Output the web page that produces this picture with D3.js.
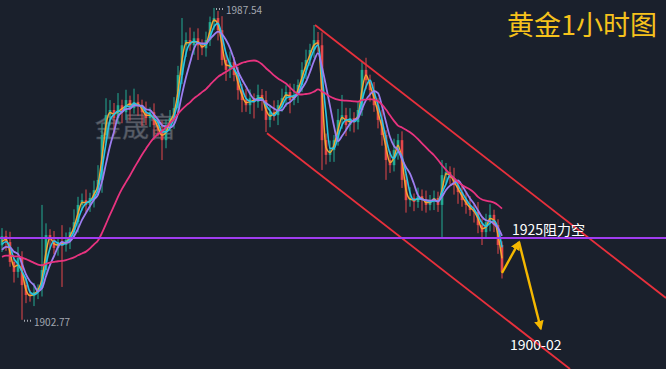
<!DOCTYPE html>
<html>
<head>
<meta charset="utf-8">
<script src="https://cdn.jsdelivr.net/npm/d3@7"></script>
<style>
  html, body { margin: 0; padding: 0; background: #1a202c; }
  svg { display: block; }
</style>
</head>
<body>
<div id="chart"></div>
<script>
// DATA (gold, 1h candles)
// closes before the first drawn candle, only used to seed the averages
const warmupCloses = [
  1917.6, 1918.2, 1919.5, 1920.1, 1918.8, 1917.9, 1919.0, 1920.6, 1921.2, 1919.7,
  1918.4, 1917.2, 1918.9, 1920.3, 1921.5, 1920.0, 1919.1, 1921.8, 1922.6
];
const firstOpen = 1923.0;
const closes = [
  1925.5, 1923.9, 1918.5, 1915.8, 1919.6, 1912.2, 1909.5, 1909.2, 1910.3, 1911.4,
  1916.3, 1925.8, 1924.5, 1922.3, 1923.9, 1923.1, 1924.5, 1926.6, 1929.3, 1934.0,
  1935.3, 1934.0, 1935.9, 1938.0, 1940.8, 1953.0, 1958.4, 1959.8, 1957.6, 1961.1,
  1959.2, 1962.5, 1960.3, 1962.0, 1960.9, 1959.2, 1957.6, 1959.2, 1955.7, 1954.3,
  1951.6, 1955.7, 1957.6, 1960.3, 1969.3, 1977.4, 1978.8, 1977.4, 1979.3, 1977.4,
  1976.6, 1978.8, 1983.7, 1984.8, 1981.5, 1973.4, 1970.7, 1972.8, 1969.3, 1965.2,
  1962.5, 1961.1, 1963.0, 1962.0, 1963.9, 1962.5, 1957.1, 1959.2, 1958.4, 1961.1,
  1963.0, 1964.7, 1962.5, 1963.9, 1966.6, 1970.7, 1973.4, 1976.1, 1978.8, 1977.4,
  1951.6, 1947.6, 1948.9, 1951.6, 1957.1, 1958.4, 1955.7, 1957.6, 1956.5, 1959.8,
  1970.7, 1967.9, 1965.2, 1961.1, 1957.1, 1953.0, 1946.2, 1944.8, 1948.9, 1951.6,
  1940.8, 1935.3, 1935.9, 1934.8, 1936.4, 1935.3, 1934.0, 1935.3, 1935.9, 1934.0,
  1942.1, 1942.9, 1941.3, 1939.4, 1937.5, 1935.3, 1934.0, 1932.6, 1932.1, 1928.5,
  1926.6, 1929.3, 1931.3, 1928.5, 1923.1, 1915.8
];
const upWick = [
  2.2, 1.5, 2.8, 1.2, 3.0, 1.8, 2.0, 1.4, 2.5, 1.0,
  17.7, 3.2, 1.6, 2.4, 1.1, 4.6, 2.0, 1.3, 3.5, 2.2,
  1.8, 2.9, 1.4, 2.6, 4.0, 3.1, 4.6, 2.7, 1.9, 3.3,
  1.5, 2.8, 1.2, 3.6, 2.1, 1.7, 2.9, 1.3, 2.4, 1.8,
  2.6, 1.5, 2.2, 3.0, 2.5, 7.4, 2.1, 3.4, 1.8, 2.7,
  1.6, 2.3, 1.5, 2.74, 1.9, 3.8, 2.0, 2.9, 1.4, 2.2,
  1.7, 3.1, 2.4, 1.3, 2.8, 1.6, 2.5, 1.9, 3.2, 1.4,
  2.6, 1.8, 2.3, 3.0, 1.5, 2.1, 2.8, 1.7, 4.1, 2.2,
  3.5, 1.8, 2.6, 1.4, 3.0, 5.5, 2.0, 2.7, 1.6, 2.4,
  2.1, 3.3, 1.5, 2.2, 1.9, 2.8, 1.3, 2.5, 3.1, 1.7,
  2.4, 1.6, 2.9, 1.2, 2.3, 1.8, 2.6, 1.4, 2.0, 1.7,
  4.1, 2.5, 1.6, 2.8, 1.3, 2.2, 1.9, 2.4, 1.5, 2.7,
  1.8, 2.3, 2.9, 1.4, 1.6, 1.0
];
const downWick = [
  1.8, 2.4, 1.3, 2.9, 1.6, 9.43, 2.2, 1.5, 2.7, 1.9,
  2.3, 1.4, 2.6, 1.7, 2.1, 11.4, 1.8, 2.5, 1.2, 2.8,
  1.6, 2.3, 1.9, 2.6, 1.4, 3.5, 2.0, 2.8, 4.2, 1.6,
  3.0, 2.1, 3.4, 1.5, 2.7, 3.8, 1.9, 2.4, 3.1, 1.7,
  5.4, 2.2, 1.6, 2.9, 1.8, 2.4, 3.2, 1.5, 2.6, 4.0,
  1.9, 2.3, 1.6, 2.1, 2.8, 1.5, 3.0, 2.2, 1.7, 2.6,
  3.3, 1.8, 2.4, 4.5, 1.6, 2.9, 3.3, 2.0, 1.5, 2.7,
  1.8, 2.3, 3.6, 1.4, 2.2, 1.9, 2.5, 1.6, 2.1, 1.8,
  8.1, 2.6, 1.9, 3.2, 1.5, 2.4, 3.0, 1.7, 2.8, 2.0,
  1.6, 2.5, 3.1, 1.8, 2.3, 2.9, 5.4, 2.1, 1.7, 2.6,
  2.2, 3.4, 1.8, 2.5, 1.6, 2.9, 2.1, 1.5, 2.7, 1.9,
  9.0, 2.3, 1.7, 2.6, 3.2, 1.8, 2.4, 1.6, 2.9, 2.2,
  3.5, 1.8, 2.5, 1.9, 2.4, 1.8
];
const maPeriods = [2, 3, 5, 20];

// drawn levels: [candle index, price]
const resistance = 1925;
const upperChannel = [[78.75, 1982.9], [166.5, 1908.7]];
const lowerChannel = [[66.75, 1953.5], [142.5, 1889.4]];
const arrowLeg1 = [[125.5, 1915.5], [129.75, 1923.9]];
const arrowLeg2 = [[129.75, 1923.9], [135.2, 1900.4]];
const resistanceLabel = [128, '1925阻力空'];
const targetLabel = [127.5, '1900-02'];
const titleText = '黄金1小时图';
const watermarkText = '金晟富';

// VIZ DIMENSIONS + MOUNTING
const width = 666;
const height = 369;
const font = '"Noto Sans CJK SC", "Noto Sans", sans-serif';

const svg = d3.select('#chart').append('svg')
  .attr('width', width)
  .attr('height', height);

svg.append('rect')
  .attr('width', width)
  .attr('height', height)
  .attr('fill', '#1a202c');

const x = d3.scaleLinear().domain([0, 126]).range([0, 504]);
const y = d3.scaleLinear().domain([1889.4, 1989.7]).range([height, 0]);

// PREP DATA
const candles = closes.map((c, i) => {
  const o = i === 0 ? firstOpen : closes[i - 1];
  return { i: i, o: o, c: c, h: Math.max(o, c) + upWick[i], l: Math.min(o, c) - downWick[i] };
});

const allCloses = warmupCloses.concat(closes);
const lead = warmupCloses.length;

function movingAvg(n) {
  return closes.map((c, i) => {
    const j = i + lead;
    const win = allCloses.slice(Math.max(0, j - n + 1), j + 1);
    return { i: i, v: d3.mean(win) };
  });
}

// WATERMARK
svg.append('text')
  .attr('x', 95)
  .attr('y', 137)
  .text(watermarkText)
  .style('font-family', font)
  .style('font-size', '27px')
  .style('fill', '#8a8f99')
  .style('stroke', '#5d626c')
  .style('stroke-width', '0.6')
  .style('opacity', 0.6);

// CANDLES
const bar = svg.append('g').selectAll('g')
  .data(candles)
  .enter()
  .append('g');

const up = '#22ab94';
const down = '#e5474b';

bar.append('line')
  .attr('x1', d => x(d.i + 0.5))
  .attr('x2', d => x(d.i + 0.5))
  .attr('y1', d => y(d.h))
  .attr('y2', d => y(d.l))
  .style('stroke', d => d.c >= d.o ? up : down)
  .style('stroke-width', 1);

bar.append('rect')
  .attr('x', d => x(d.i + 0.5) - 1.3)
  .attr('width', 2.6)
  .attr('y', d => y(Math.max(d.o, d.c)))
  .attr('height', d => Math.max(1, Math.abs(y(d.o) - y(d.c))))
  .style('fill', d => d.c >= d.o ? up : down);

// MOVING AVERAGES
const maColors = ['#f5a532', '#29c3e4', '#9d7ef0', '#e8337f'];
const maWidths = [1.5, 1.6, 1.8, 1.8];
const maLine = d3.line()
  .x(d => x(d.i + 0.5))
  .y(d => y(d.v))
  .curve(d3.curveMonotoneX);

maPeriods.forEach((n, k) => {
  svg.append('path')
    .attr('d', maLine(movingAvg(n)))
    .style('fill', 'none')
    .style('stroke', maColors[k])
    .style('stroke-width', maWidths[k]);
});

// CHANNEL + LEVEL
const seg = d3.line().x(d => x(d[0])).y(d => y(d[1]));

[upperChannel, lowerChannel].forEach(ch => {
  svg.append('path')
    .attr('d', seg(ch))
    .style('fill', 'none')
    .style('stroke', '#e8303c')
    .style('stroke-width', 1.8);
});

svg.append('line')
  .attr('x1', 0)
  .attr('x2', width)
  .attr('y1', y(resistance))
  .attr('y2', y(resistance))
  .style('stroke', '#a03df0')
  .style('stroke-width', 2);

// HIGH / LOW MARKERS
const hi = candles.reduce((a, b) => b.h > a.h ? b : a);
const lo = candles.reduce((a, b) => b.l < a.l ? b : a);

[[hi, hi.h], [lo, lo.l]].forEach(([d, p]) => {
  const cx = x(d.i + 0.5);
  svg.append('line')
    .attr('x1', cx + 2)
    .attr('x2', cx + 11)
    .attr('y1', y(p) + 1)
    .attr('y2', y(p) + 1)
    .style('stroke', '#a3a7b0')
    .style('stroke-width', 2)
    .style('stroke-dasharray', '1,2');
  svg.append('text')
    .attr('x', cx + 12)
    .attr('y', y(p) + 6)
    .text(p.toFixed(2))
    .style('font-family', font)
    .style('font-size', '10px')
    .style('fill', '#a3a7b0');
});

// ARROW
const defs = svg.append('defs');
defs.append('marker')
  .attr('id', 'head')
  .attr('viewBox', '0 0 10 10')
  .attr('refX', 8)
  .attr('refY', 5)
  .attr('markerWidth', 4)
  .attr('markerHeight', 4)
  .attr('orient', 'auto')
  .append('path')
  .attr('d', 'M0,0L10,5L0,10Z')
  .style('fill', '#f5b800');

[arrowLeg1, arrowLeg2].forEach(leg => {
  svg.append('path')
    .attr('d', seg(leg))
    .attr('marker-end', 'url(#head)')
    .style('fill', 'none')
    .style('stroke', '#f5b800')
    .style('stroke-width', 2.4);
});

// TEXTS
svg.append('text')
  .attr('x', x(resistanceLabel[0]))
  .attr('y', y(resistance) - 3.5)
  .text(resistanceLabel[1])
  .style('font-family', font)
  .style('font-size', '14px')
  .style('fill', '#ffffff');

svg.append('text')
  .attr('x', x(targetLabel[0]))
  .attr('y', 350)
  .text(targetLabel[1])
  .style('font-family', font)
  .style('font-size', '14px')
  .style('fill', '#ffffff');

svg.append('text')
  .attr('x', 507)
  .attr('y', 35)
  .text(titleText)
  .style('font-family', font)
  .style('font-size', '27px')
  .style('fill', '#f6c21c');
</script>
</body>
</html>
